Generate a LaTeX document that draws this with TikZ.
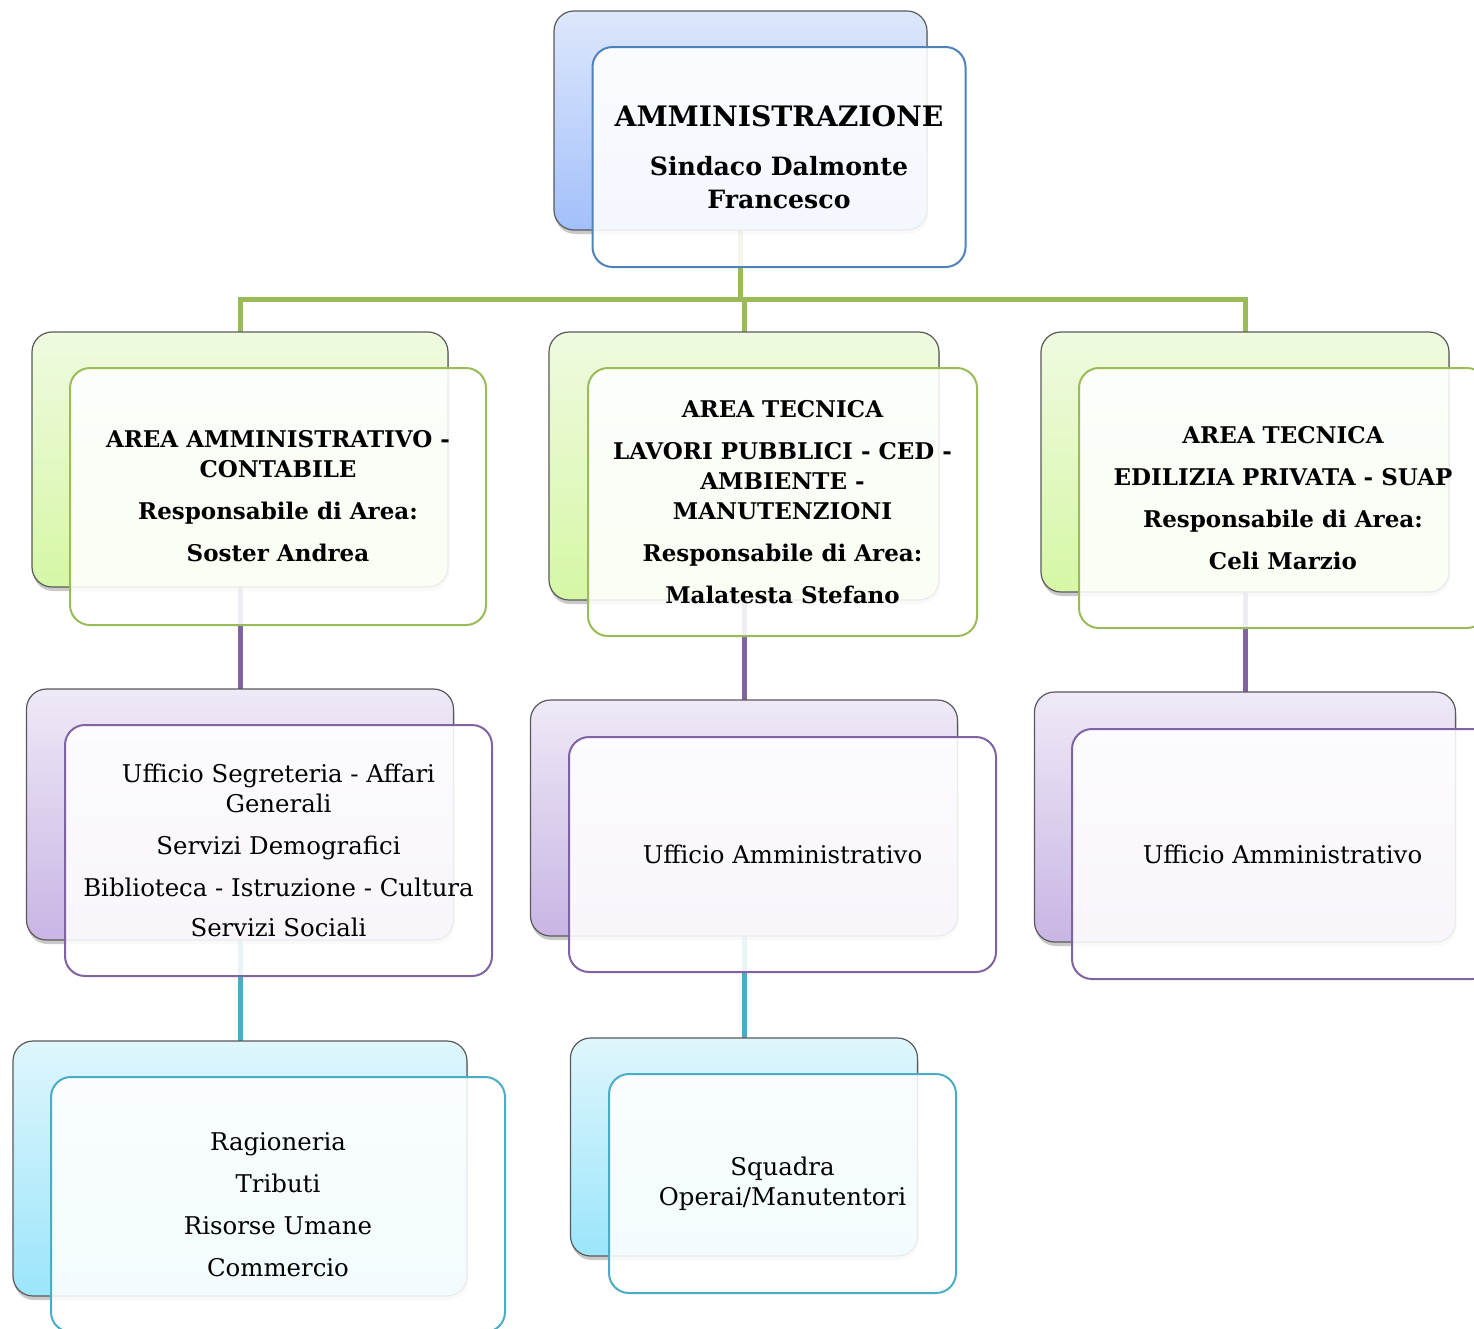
\documentclass[tikz,border=0pt]{standalone}
\usepackage{fontspec}
\setmainfont{DejaVu Serif}
\usepackage{xcolor}
\usetikzlibrary{positioning,shadows,backgrounds}

\definecolor{blueTop}{HTML}{DDE7FB}
\definecolor{blueBot}{HTML}{A3C0FB}
\definecolor{blueLine}{HTML}{4F81BD}
\definecolor{greenTop}{HTML}{EFFAE0}
\definecolor{greenBot}{HTML}{D6F7A5}
\definecolor{greenLine}{HTML}{9BBB59}
\definecolor{violaTop}{HTML}{EFE9F7}
\definecolor{violaBot}{HTML}{C8B5E4}
\definecolor{violaLine}{HTML}{8064A2}
\definecolor{cyanTop}{HTML}{DFF6FC}
\definecolor{cyanBot}{HTML}{9BE5FB}
\definecolor{cyanLine}{HTML}{4BACC6}

\begin{document}
\begin{tikzpicture}[x=0.5pt,y=-0.5pt,
    back/.style={rounded corners=10pt,draw=black!65,line width=0.6pt,inner sep=0pt,outer sep=0pt,
      drop shadow={shadow xshift=0.5pt,shadow yshift=-2pt,opacity=0.3,fill=black!70}},
    front/.style={rounded corners=10pt,fill=white,fill opacity=0.88,text opacity=1,
      line width=1pt,inner sep=0pt,outer sep=0pt,align=center},
    blueback/.style={back,top color=blueTop,bottom color=blueBot},
    greenback/.style={back,top color=greenTop,bottom color=greenBot},
    violaback/.style={back,top color=violaTop,bottom color=violaBot},
    cyanback/.style={back,top color=cyanTop,bottom color=cyanBot},
    bluefront/.style={front,draw=blueLine},
    greenfront/.style={front,draw=greenLine},
    violafront/.style={front,draw=violaLine},
    cyanfront/.style={front,draw=cyanLine},
    areatext/.style={font=\bfseries\fontsize{11.5}{15}\selectfont},
    uffext/.style={font=\fontsize{12.2}{15}\selectfont},
    glink/.style={draw=greenLine,line width=2.5pt},
    plink/.style={draw=violaLine,line width=2.5pt},
    clink/.style={draw=cyanLine,line width=2.5pt}]
  \useasboundingbox (0,0) rectangle (1474,1329);

  % amministrazione
  \node[blueback,minimum width=186.5pt,minimum height=109.5pt] (admB) at (740.5,120.5) {};
  \node[bluefront,minimum width=186.5pt,minimum height=110pt,font=\bfseries\fontsize{12.6}{16.5}\selectfont]
    (adm) at ([shift={(38.5,36.5)}]admB.center)
    {{\fontsize{14.1}{18}\selectfont AMMINISTRAZIONE}\\[8pt]Sindaco Dalmonte\\Francesco};

  % aree
  \node[greenback,minimum width=208pt,minimum height=127.5pt] (area1B) at (240,459.5) {};
  \node[greenfront,areatext,minimum width=208pt,minimum height=128.5pt]
    (area1) at ([shift={(38,37)}]area1B.center)
    {AREA AMMINISTRATIVO -\\CONTABILE\\[6pt]Responsabile di Area:\\[6pt]Soster Andrea};
  \node[greenback,minimum width=195pt,minimum height=134pt] (area2B) at (744,466) {};
  \node[greenfront,areatext,minimum width=194.5pt,minimum height=134pt]
    (area2) at ([shift={(38.5,36)}]area2B.center)
    {AREA TECNICA\\[6pt]LAVORI PUBBLICI - CED -\\AMBIENTE -\\MANUTENZIONI\\[6pt]Responsabile di Area:\\[6pt]Malatesta Stefano};
  \node[greenback,minimum width=204pt,minimum height=130pt] (area3B) at (1245,462) {};
  \node[greenfront,areatext,minimum width=204pt,minimum height=130pt]
    (area3) at ([shift={(38,36)}]area3B.center)
    {AREA TECNICA\\[6pt]EDILIZIA PRIVATA - SUAP\\[6pt]Responsabile di Area:\\[6pt]Celi Marzio};

  % uffici
  \node[violaback,minimum width=213.5pt,minimum height=125.5pt] (uff1B) at (240,814.5) {};
  \node[violafront,uffext,minimum width=213.5pt,minimum height=125.5pt]
    (uff1) at ([shift={(38.5,36)}]uff1B.center)
    {Ufficio Segreteria - Affari\\Generali\\[6pt]Servizi Demografici\\[6pt]Biblioteca - Istruzione - Cultura\\[5pt]Servizi Sociali};
  \node[violaback,minimum width=213.5pt,minimum height=118pt] (uff2B) at (744,818) {};
  \node[violafront,uffext,minimum width=213.5pt,minimum height=117.5pt]
    (uff2) at ([shift={(38.5,36.5)}]uff2B.center) {Ufficio Amministrativo};
  \node[violaback,minimum width=210.5pt,minimum height=125pt] (uff3B) at (1245,817) {};
  \node[violafront,uffext,minimum width=210.5pt,minimum height=125pt]
    (uff3) at ([shift={(37.5,37)}]uff3B.center) {Ufficio Amministrativo};

  % servizi
  \node[cyanback,minimum width=227pt,minimum height=127.5pt] (serv1B) at (240,1168.5) {};
  \node[cyanfront,uffext,minimum width=227pt,minimum height=127.5pt]
    (serv1) at ([shift={(38,36)}]serv1B.center)
    {Ragioneria\\[6pt]Tributi\\[6pt]Risorse Umane\\[6pt]Commercio};
  \node[cyanback,minimum width=173.5pt,minimum height=109pt] (serv2B) at (744,1147) {};
  \node[cyanfront,uffext,minimum width=173.5pt,minimum height=109.5pt]
    (serv2) at ([shift={(38.5,36.5)}]serv2B.center) {Squadra\\Operai/Manutentori};

  \begin{pgfonlayer}{background}
    \coordinate (bus) at (740.5,299);
    \draw[glink] (admB.south) -- (bus);
    \draw[glink] (area1B.north) |- (bus) -| (area3B.north);
    \draw[glink] (bus -| area2B.north) -- (area2B.north);
    \draw[plink] (area1B.south) -- (uff1B.north);
    \draw[plink] (area2B.south) -- (uff2B.north);
    \draw[plink] (area3B.south) -- (uff3B.north);
    \draw[clink] (uff1B.south) -- (serv1B.north);
    \draw[clink] (uff2B.south) -- (serv2B.north);
  \end{pgfonlayer}
\end{tikzpicture}
\end{document}
